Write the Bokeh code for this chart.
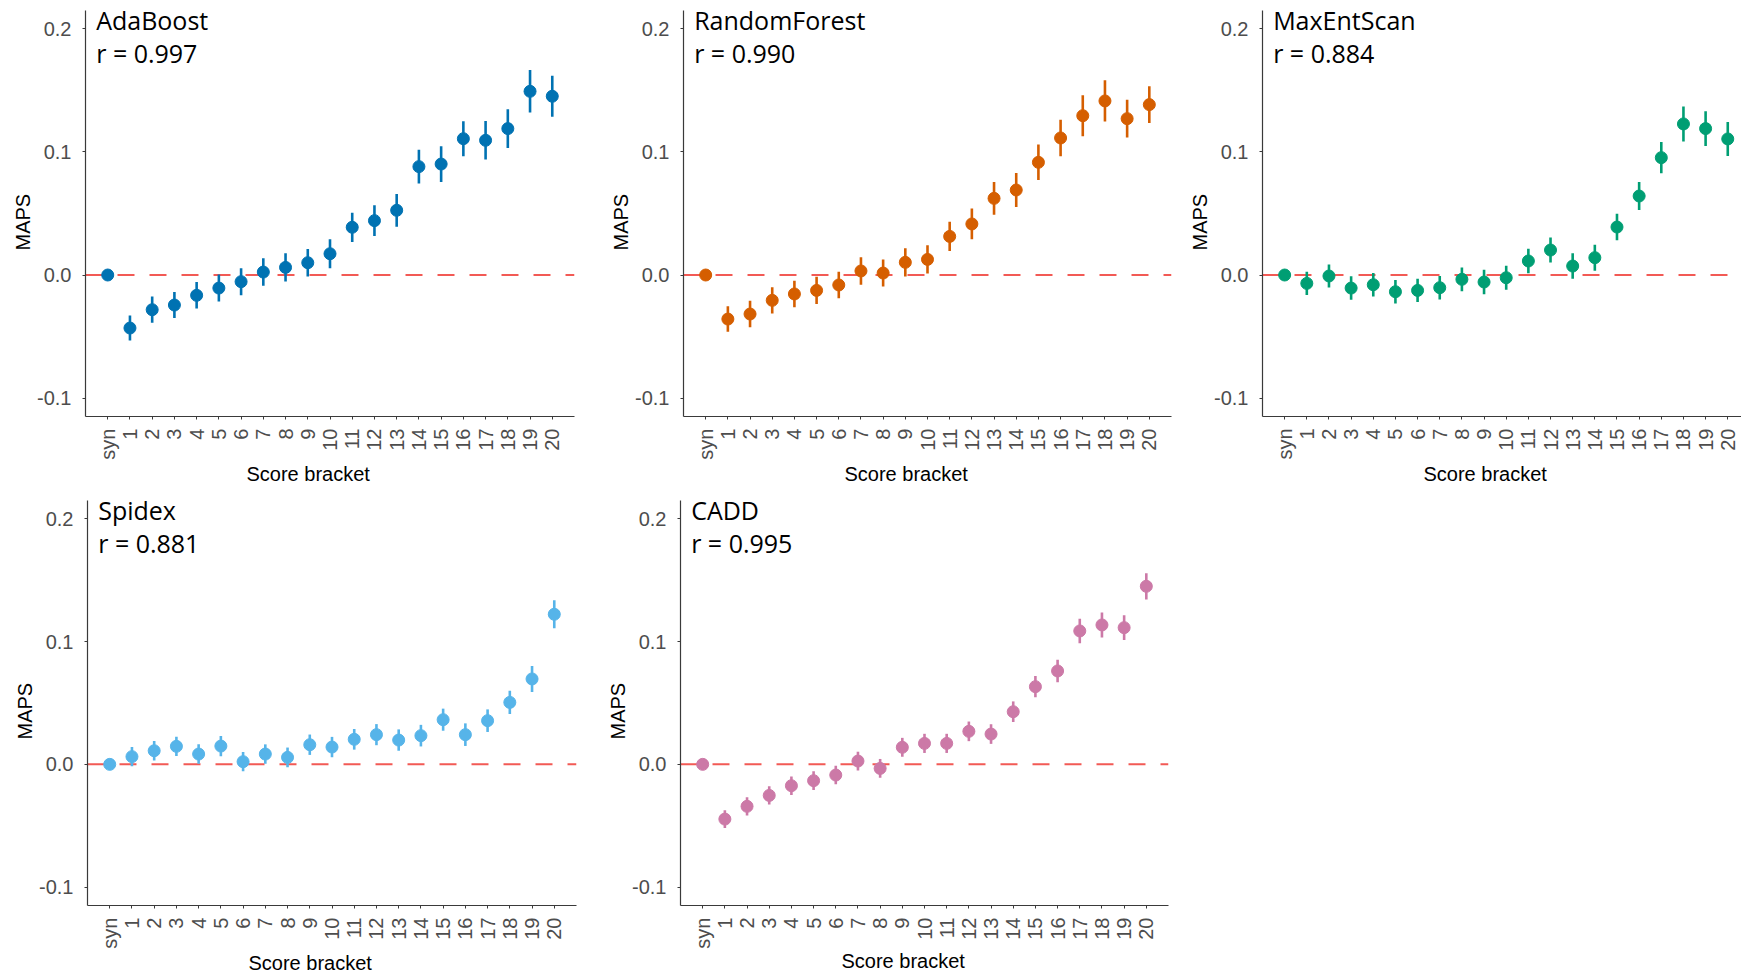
import math
from bokeh.plotting import figure
from bokeh.models import Range1d, FixedTicker, PrintfTickFormatter, Span, Label, Title, ColumnDataSource
from bokeh.layouts import column, row
from bokeh.embed import file_html
from bokeh.resources import INLINE

# ---------------- data ----------------
brackets = ["syn"] + [str(i) for i in range(1, 21)]
y_ticks = [-0.1, 0.0, 0.1, 0.2]

adaboost_maps = [0.000, -0.0431, -0.0282, -0.0244, -0.0165, -0.0106, -0.0054, 0.0024, 0.0062, 0.0100,
                 0.0173, 0.0388, 0.0442, 0.0526, 0.0881, 0.0902, 0.1108, 0.1095, 0.1190, 0.1493, 0.1453]
adaboost_err = [0.000, 0.0102, 0.0107, 0.0106, 0.0108, 0.0110, 0.0110, 0.0112, 0.0114, 0.0112,
                0.0117, 0.0119, 0.0125, 0.0133, 0.0138, 0.0145, 0.0142, 0.0156, 0.0157, 0.0173, 0.0167]

rf_maps = [0.000, -0.0358, -0.0317, -0.0206, -0.0154, -0.0125, -0.0081, 0.0033, 0.0016, 0.0103,
           0.0127, 0.0314, 0.0415, 0.0623, 0.0691, 0.0916, 0.1114, 0.1295, 0.1415, 0.1271, 0.1385]
rf_err = [0.000, 0.0104, 0.0108, 0.0106, 0.0108, 0.0110, 0.0108, 0.0112, 0.0110, 0.0115,
          0.0114, 0.0118, 0.0125, 0.0133, 0.0138, 0.0144, 0.0148, 0.0167, 0.0168, 0.0153, 0.0149]

mes_maps = [0.000, -0.0068, -0.0008, -0.0106, -0.0079, -0.0136, -0.0125, -0.0103, -0.0035, -0.0057,
            -0.0022, 0.0114, 0.0203, 0.0073, 0.0141, 0.0390, 0.0642, 0.0954, 0.1228, 0.1190, 0.1106]
mes_err = [0.000, 0.0095, 0.0094, 0.0095, 0.0095, 0.0095, 0.0095, 0.0096, 0.0096, 0.0099,
           0.0098, 0.0099, 0.0102, 0.0103, 0.0106, 0.0108, 0.0114, 0.0127, 0.0142, 0.0141, 0.0138]

spidex_maps = [0.000, 0.0063, 0.0111, 0.0147, 0.0084, 0.0149, 0.0022, 0.0084, 0.0057, 0.0160,
               0.0141, 0.0204, 0.0242, 0.0198, 0.0234, 0.0364, 0.0242, 0.0356, 0.0505, 0.0696, 0.1223]
spidex_err = [0.000, 0.0079, 0.0079, 0.0079, 0.0079, 0.0082, 0.0079, 0.0079, 0.0080, 0.0083,
              0.0083, 0.0084, 0.0086, 0.0087, 0.0088, 0.0090, 0.0092, 0.0092, 0.0095, 0.0106, 0.0114]

cadd_maps = [0.000, -0.0446, -0.0342, -0.0253, -0.0174, -0.0133, -0.0087, 0.0027, -0.0033, 0.0139,
             0.0171, 0.0171, 0.0269, 0.0247, 0.0429, 0.0633, 0.0761, 0.1087, 0.1136, 0.1114, 0.1451]
cadd_err = [0.000, 0.0073, 0.0075, 0.0075, 0.0076, 0.0076, 0.0076, 0.0076, 0.0077, 0.0077,
            0.0078, 0.0078, 0.0080, 0.0080, 0.0084, 0.0087, 0.0092, 0.0100, 0.0102, 0.0100, 0.0107]

panel_names = ["AdaBoost", "RandomForest", "MaxEntScan", "Spidex", "CADD"]
panel_r = ["r = 0.997", "r = 0.990", "r = 0.884", "r = 0.881", "r = 0.995"]
panel_colors = ["#0072B2", "#D55E00", "#009E73", "#56B4E9", "#CC79A7"]

TICK_FONT = "Liberation Sans"
TITLE_FONT = "Open Sans"


def make_panel(name, rtext, maps, err, color, width, height, bl, br, bt, bb, xend, xt_standoff):
    xs = list(range(1, len(brackets) + 1))
    lo = [m - e for m, e in zip(maps, err)]
    hi = [m + e for m, e in zip(maps, err)]
    src = ColumnDataSource(dict(x=xs, y=maps, lo=lo, hi=hi))

    p = figure(width=width, height=height, output_backend="svg", toolbar_location=None,
               x_range=Range1d(0, xend), y_range=Range1d(-0.115, 0.215),
               min_border_left=bl, min_border_right=br, min_border_top=bt, min_border_bottom=bb)
    p.outline_line_color = None
    p.xgrid.visible = False
    p.ygrid.visible = False
    p.background_fill_color = "white"
    p.border_fill_color = "white"

    zero = Span(location=0, dimension="width", line_color="#F25A55", line_width=2,
                line_dash="17 15", level="underlay")
    p.add_layout(zero)

    p.segment(x0="x", y0="lo", x1="x", y1="hi", source=src, line_color=color, line_width=2.6)
    p.scatter(x="x", y="y", source=src, size=12, fill_color=color, line_color=color)

    # axes
    for ax in (p.xaxis[0], p.yaxis[0]):
        ax.axis_line_color = "#3a3a3a"
        ax.axis_line_width = 1.2
        ax.major_tick_line_color = "#3a3a3a"
        ax.major_tick_in = 0
        ax.major_tick_out = 3
        ax.minor_tick_line_color = None
        ax.major_label_text_font = TICK_FONT
        ax.major_label_text_color = "#4D4D4D"

    p.xaxis.ticker = FixedTicker(ticks=xs)
    p.xaxis.major_label_overrides = {x: b for x, b in zip(xs, brackets)}
    p.xaxis.major_label_orientation = math.pi / 2
    p.xaxis.major_label_standoff = 9
    p.xaxis.major_label_text_font_size = "20px"

    p.yaxis.ticker = FixedTicker(ticks=y_ticks)
    p.yaxis.formatter = PrintfTickFormatter(format="%.1f")
    p.yaxis.major_label_standoff = 11
    p.yaxis.major_label_text_font_size = "20px"

    p.add_layout(Title(text="MAPS", align="left", offset=166, standoff=2,
                       text_font=TICK_FONT, text_font_size="20px", text_font_style="normal",
                       text_color="black"), "left")
    p.add_layout(Title(text="Score bracket", align="left", offset=161, standoff=xt_standoff,
                       text_font=TICK_FONT, text_font_size="20px", text_font_style="normal",
                       text_color="black"), "below")

    p.add_layout(Label(x=0.48, y=0.2073, text=name, text_font=TITLE_FONT, text_font_size="25px",
                       text_color="black", text_baseline="alphabetic", text_align="left"))
    p.add_layout(Label(x=0.48, y=0.1805, text=rtext, text_font=TITLE_FONT, text_font_size="25px",
                       text_color="black", text_baseline="alphabetic", text_align="left"))
    return p


f1 = make_panel(panel_names[0], panel_r[0], adaboost_maps, adaboost_err, panel_colors[0],
                600, 490, 85, 26, 10, 74, 22, -4)
f2 = make_panel(panel_names[1], panel_r[1], rf_maps, rf_err, panel_colors[1],
                585, 490, 83, 14, 10, 74, 22, -4)
f3 = make_panel(panel_names[2], panel_r[2], mes_maps, mes_err, panel_colors[2],
                556, 490, 76, 0, 10, 74, 21.62, -4)
f4 = make_panel(panel_names[3], panel_r[3], spidex_maps, spidex_err, panel_colors[3],
                600, 484, 87, 24, 10, 69, 22, -3)
f5 = make_panel(panel_names[4], panel_r[4], cadd_maps, cadd_err, panel_colors[4],
                600, 484, 80, 32, 10, 69, 22, -7)

layout = column(row(f1, f2, f3), row(f4, f5))
open("out.html", "w").write(file_html(layout, INLINE))
